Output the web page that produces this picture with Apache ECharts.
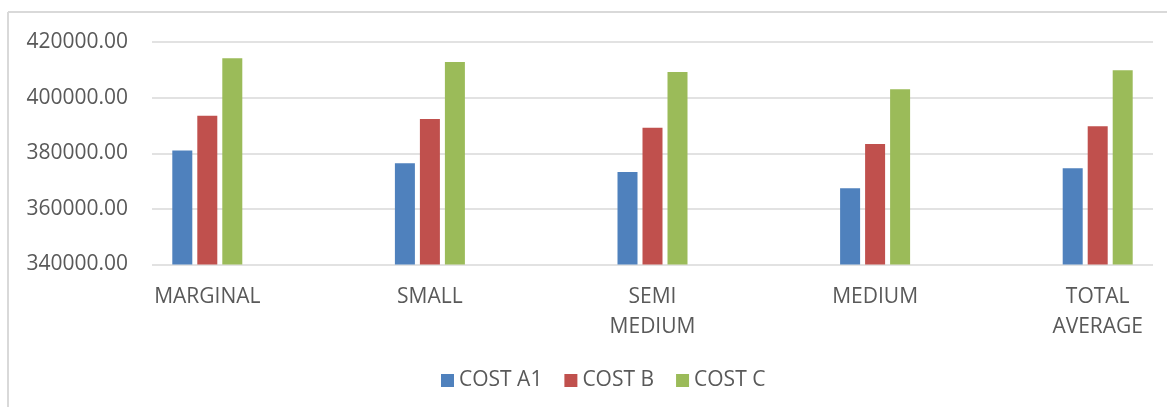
<!DOCTYPE html>
<html>
<head>
<meta charset="utf-8">
<script src="https://cdn.jsdelivr.net/npm/echarts@6/dist/echarts.min.js"></script>
<style>
	html, body { margin: 0; padding: 0; background: #fff; }
	#chart1 { width: 1167px; height: 407px; }
</style>
</head>
<body>
<div id="chart1"></div>
<script>
//categories on the x axis
var categories = ["MARGINAL", "SMALL", "SEMI\nMEDIUM", "MEDIUM", "TOTAL\nAVERAGE"];

//series values
var costA1 = [381000, 376400, 373300, 367400, 374600];
var costB = [393500, 392300, 389200, 383300, 389700];
var costC = [414200, 412800, 409200, 403000, 409800];

var seriesNames = ["COST A1", "COST B", "COST C"];
var seriesColors = ["#4f81bd", "#c0504d", "#9bbb59"];

//y axis range
var yMin = 340000;
var yMax = 420000;
var yStep = 20000;

var chart = echarts.init(document.getElementById("chart1"));

var textColor = "#595959";
var fontName = "Open Sans";

function barSeries(name, data, color) {
	return {
		type: "bar",
		name: name,
		data: data,
		xAxisIndex: 1,
		yAxisIndex: 1,
		barWidth: 20,
		barGap: "25%",
		itemStyle: { color: color },
		animation: false
	};
}

var option = {
	animation: false,
	//outer frame (top and left edges only are visible)
	graphic: [
		{ type: "line", shape: { x1: 8, y1: 12, x2: 1167, y2: 12 }, style: { stroke: "#d9d9d9", lineWidth: 2 } },
		{ type: "line", shape: { x1: 8, y1: 12, x2: 8, y2: 407 }, style: { stroke: "#d9d9d9", lineWidth: 2 } }
	],
	legend: {
		data: seriesNames,
		bottom: 11,
		left: 436,
		icon: "rect",
		itemWidth: 13,
		itemHeight: 13,
		itemGap: 22,
		textStyle: { color: textColor, fontSize: 21, fontFamily: fontName }
	},
	grid: [
		//grid for the value labels and gridlines
		{ left: 152, right: 14, top: 42, bottom: 142.5, outerBoundsMode: "none" },
		//grid for the bars, wider to match category spacing
		{ left: 96, right: -42, top: 42, bottom: 142.5, outerBoundsMode: "none" }
	],
	xAxis: [
		{ type: "category", gridIndex: 0, data: categories, show: false },
		{
			type: "category",
			gridIndex: 1,
			data: categories,
			axisLine: { show: false },
			axisTick: { show: false },
			axisLabel: {
				interval: 0,
				color: textColor,
				fontSize: 21,
				fontFamily: fontName,
				lineHeight: 30,
				margin: 18
			}
		}
	],
	yAxis: [
		{
			type: "value",
			gridIndex: 0,
			min: yMin,
			max: yMax,
			interval: yStep,
			axisLine: { show: false },
			axisTick: { show: false },
			splitLine: { lineStyle: { color: "#d9d9d9", width: 1.5 } },
			axisLabel: {
				color: textColor,
				fontSize: 21,
				fontFamily: fontName,
				margin: 24,
				formatter: function (v) {
					return v.toFixed(2);
				}
			}
		},
		{ type: "value", gridIndex: 1, min: yMin, max: yMax, interval: yStep, show: false }
	],
	series: [
		barSeries(seriesNames[0], costA1, seriesColors[0]),
		barSeries(seriesNames[1], costB, seriesColors[1]),
		barSeries(seriesNames[2], costC, seriesColors[2])
	]
};

chart.setOption(option);
</script>
</body>
</html>
